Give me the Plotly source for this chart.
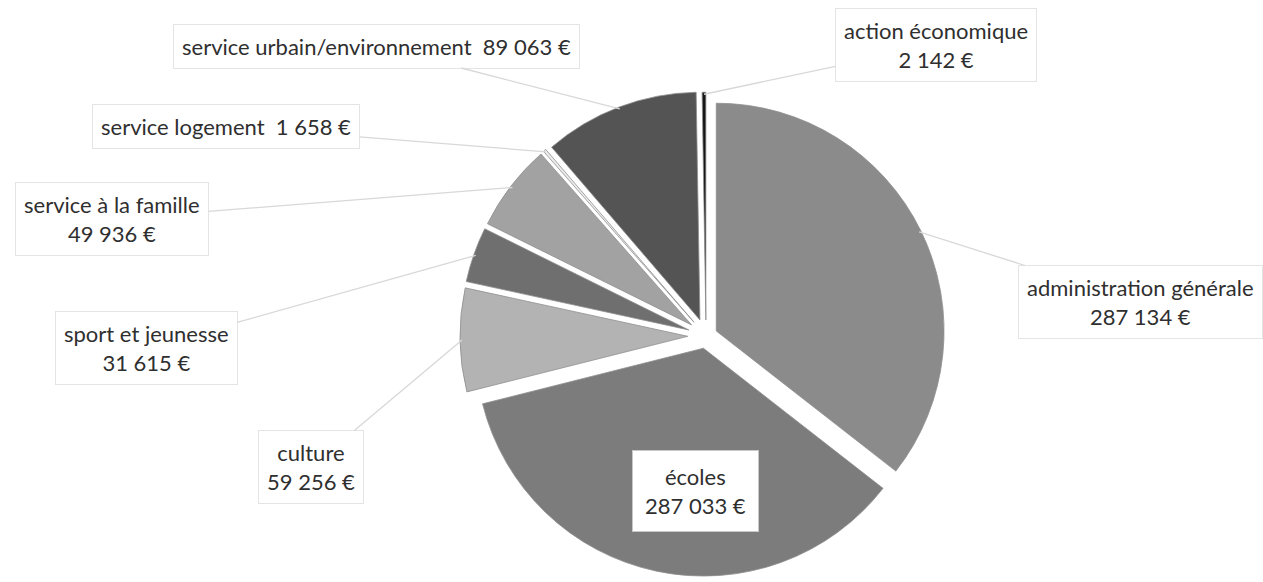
import math
import plotly.graph_objects as go

# Budget by service, clockwise from 12 o'clock
services = [
    "administration générale",
    "écoles",
    "culture",
    "sport et jeunesse",
    "service à la famille",
    "service logement",
    "service urbain/environnement",
    "action économique",
]
amounts = [287134, 287033, 59256, 31615, 49936, 1658, 89063, 2142]
label_texts = [
    "administration générale<br>287 134 €",
    "écoles<br>287 033 €",
    "culture<br>59 256 €",
    "sport et jeunesse<br>31 615 €",
    "service à la famille<br>49 936 €",
    "service logement  1 658 €",
    "service urbain/environnement  89 063 €",
    "action économique<br>2 142 €",
]

# styling
colors = ["#8b8b8b", "#7c7c7c", "#b3b3b3", "#6f6f6f", "#a2a2a2", "#ececec", "#545454", "#161616"]
pulls = [0.05, 0.055, 0.08, 0.08, 0.08, 0.08, 0.075, 0.07]
# label box centres (pixel coordinates on a 1263 x 582 canvas, y downward)
label_pos = [
    (1140, 302), (695, 491), (311, 467), (146, 348),
    (112, 219), (226, 126), (376, 46), (936, 45),
]

W, H = 1263, 582
dom_x = [0.259, 0.859]
dom_y = [0.0, 0.8454]

fig = go.Figure()
fig.add_trace(go.Pie(
    labels=services,
    values=amounts,
    sort=False,
    direction="clockwise",
    rotation=0,
    pull=pulls,
    marker=dict(colors=colors, line=dict(color="#8f8f8f", width=0.8)),
    textinfo="none",
    hoverinfo="label+value",
    domain=dict(x=dom_x, y=dom_y),
    showlegend=False,
))

# pie geometry as plotly lays it out
box_w = W * (dom_x[1] - dom_x[0])
box_h = H * (dom_y[1] - dom_y[0])
R = min(box_w, box_h) / 2 / (1 + max(pulls))
cx = W * (dom_x[0] + dom_x[1]) / 2
cy = H - H * (dom_y[0] + dom_y[1]) / 2

label_font = dict(size=22, color="#2f2f2f", family="Lato")

total = sum(amounts)
annotations = []
cum = 0.0
for name, val, txt, p, (lx, ly) in zip(services, amounts, label_texts, pulls, label_pos):
    mid = 2 * math.pi * (cum + val / 2) / total
    cum += val
    if name == "écoles":
        annotations.append(dict(
            x=lx, y=ly, xref="x", yref="y", text=txt, showarrow=False,
            bgcolor="white", bordercolor="#c8c8c8", borderwidth=1, borderpad=12,
            font=label_font,
        ))
        continue
    rt = R * (1 + p) - 2
    tx = cx + rt * math.sin(mid)
    ty = cy - rt * math.cos(mid)
    annotations.append(dict(
        x=tx, y=ty, xref="x", yref="y", ax=lx, ay=ly, axref="x", ayref="y",
        text=txt, showarrow=True, arrowhead=0, arrowwidth=1.3, arrowcolor="#d8d8d8",
        bgcolor="white", bordercolor="#e4e4e4", borderwidth=1, borderpad=8,
        font=label_font,
    ))

fig.update_layout(
    width=W, height=H,
    margin=dict(l=0, r=0, t=0, b=0),
    paper_bgcolor="white", plot_bgcolor="rgba(0,0,0,0)",
    xaxis=dict(range=[0, W], visible=False, fixedrange=True),
    yaxis=dict(range=[H, 0], visible=False, fixedrange=True),
    annotations=annotations,
)

fig.write_html("out.html")
